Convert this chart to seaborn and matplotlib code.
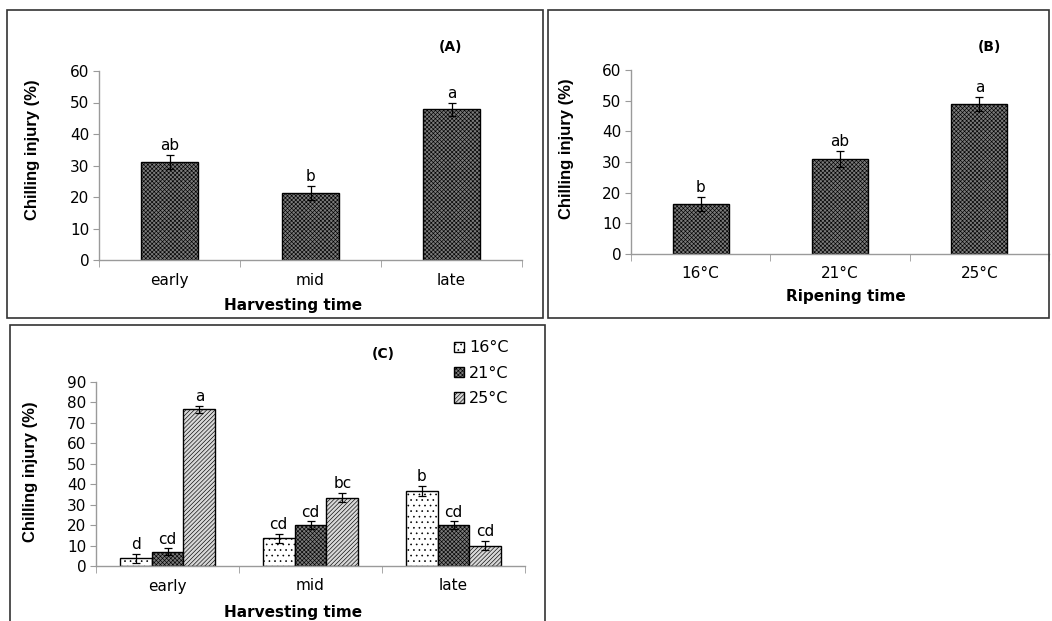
import matplotlib
matplotlib.use('Agg')
import matplotlib.pyplot as plt
import seaborn as sns
import pandas as pd
from matplotlib.patches import Rectangle

# data
harvest = ['early', 'mid', 'late']
ci_harvest = [31.1, 21.2, 47.9]
err_harvest = [2.3, 2.2, 2.1]
lbl_harvest = ['ab', 'b', 'a']

ripening = ['16°C', '21°C', '25°C']
ci_ripen = [16.3, 31.0, 49.0]
err_ripen = [2.4, 2.6, 2.3]
lbl_ripen = ['b', 'ab', 'a']

temps = ['16°C', '21°C', '25°C']
ci_16 = [3.7, 13.5, 36.7]
ci_21 = [7.0, 20.0, 20.0]
ci_25 = [76.6, 33.4, 10.0]
err_16 = [2.2, 2.3, 2.5]
err_21 = [1.6, 1.9, 1.9]
err_25 = [1.9, 2.3, 2.2]
lbl_16 = ['d', 'cd', 'b']
lbl_21 = ['cd', 'cd', 'cd']
lbl_25 = ['a', 'bc', 'cd']

sns.set_style('white')
plt.rcParams['font.family'] = ['DejaVu Sans']
plt.rcParams['hatch.linewidth'] = 0.45
for k in ['text.color', 'axes.labelcolor', 'xtick.labelcolor', 'ytick.labelcolor']:
    plt.rcParams[k] = 'black'

W, H = 1052, 621
fig = plt.figure(figsize=(W / 100, H / 100), dpi=100)


def px_axes(left, right, top, bottom):
    return fig.add_axes([left / W, 1 - bottom / H, (right - left) / W, (bottom - top) / H])


def frame(left, top, right, bottom):
    fig.patches.append(Rectangle((left / W, 1 - bottom / H), (right - left) / W, (bottom - top) / H,
                                 transform=fig.transFigure, fill=False, edgecolor='#333333', lw=1.2))


def style_axes(ax, ymax, step, xr):
    ax.set_ylim(0, ymax)
    ax.set_xlim(-0.5, xr)
    ax.set_yticks(range(0, ymax + 1, step))
    for s in ['top', 'right']:
        ax.spines[s].set_visible(False)
    for s in ['left', 'bottom']:
        ax.spines[s].set_color('#9a9a9a')
        ax.spines[s].set_linewidth(1)
    ax.tick_params(axis='y', direction='out', length=4, color='#9a9a9a', labelsize=11, pad=3, left=True)
    ax.tick_params(axis='x', which='major', length=0, labelsize=11, pad=9)
    ax.set_xticks([-0.5, 0.5, 1.5, 2.5], minor=True)
    ax.tick_params(axis='x', which='minor', direction='out', length=5, color='#9a9a9a', bottom=True)


def place_labels(ax, ax_px, ylab_xy, xlab_xy):
    # ax_px = (left, right, top, bottom) in pixels; labels placed at pixel centres
    left, right, top, bottom = ax_px
    ax.yaxis.set_label_coords((ylab_xy[0] - left) / (right - left), (bottom - ylab_xy[1]) / (bottom - top))
    ax.xaxis.set_label_coords((xlab_xy[0] - left) / (right - left), (bottom - xlab_xy[1]) / (bottom - top))
    ax.yaxis.label.set_va('center')
    ax.xaxis.label.set_va('center')


def simple_panel(ax, cats, vals, errs, lbls, xlabel):
    df = pd.DataFrame({'cat': cats, 'val': vals})
    sns.barplot(data=df, x='cat', y='val', color='#7a7a7a', width=0.4, errorbar=None,
                edgecolor='black', linewidth=1, ax=ax)
    for p in ax.patches:
        p.set_hatch('xxxxxxxx')
    xs = range(len(cats))
    ax.errorbar(xs, vals, yerr=errs, fmt='none', ecolor='black', elinewidth=0.9, capsize=3, capthick=0.9)
    for x, v, e, t in zip(xs, vals, errs, lbls):
        ax.text(x, v + e + 0.6, t, ha='center', va='bottom', fontsize=11)
    ax.set_ylabel('Chilling injury (%)', fontsize=12, fontweight='bold', family='Liberation Sans')
    ax.set_xlabel(xlabel, fontsize=11, fontweight='bold')


# panel A
frame(7, 10, 543, 318)
pxA = (99, 522, 71, 260)
axA = px_axes(*pxA)
simple_panel(axA, harvest, ci_harvest, err_harvest, lbl_harvest, 'Harvesting time')
style_axes(axA, 60, 10, 2.5)
place_labels(axA, pxA, (33, 150), (293, 305))
fig.text(450 / W, 1 - 47 / H, '(A)', ha='center', va='center', fontsize=10, fontweight='bold')

# panel B
frame(548, 10, 1049, 318)
pxB = (631, 1049, 70, 254)
axB = px_axes(*pxB)
simple_panel(axB, ripening, ci_ripen, err_ripen, lbl_ripen, 'Ripening time')
style_axes(axB, 60, 10, 2.5 - 11 / 143)
place_labels(axB, pxB, (567, 149), (846, 296))
fig.text(989 / W, 1 - 47 / H, '(B)', ha='center', va='center', fontsize=10, fontweight='bold')

# panel C
frame(10, 325, 545, 640)
pxC = (96, 525, 382, 566)
axC = px_axes(*pxC)
dfC = pd.DataFrame({
    'harvest': harvest * 3,
    'temp': [t for t in temps for _ in harvest],
    'val': ci_16 + ci_21 + ci_25,
})
sns.barplot(data=dfC, x='harvest', y='val', hue='temp', hue_order=temps,
            palette=['white', '#7a7a7a', '#d8d8d8'], width=0.67, errorbar=None,
            edgecolor='black', linewidth=1, ax=axC)
hatches = ['...', 'xxxxxxxx', '////////']
errs_all = [err_16, err_21, err_25]
lbls_all = [lbl_16, lbl_21, lbl_25]
vals_all = [ci_16, ci_21, ci_25]
for cont, h, vals, errs, lbls in zip(axC.containers, hatches, vals_all, errs_all, lbls_all):
    xs = []
    for p in cont.patches:
        p.set_hatch(h)
        xs.append(p.get_x() + p.get_width() / 2)
    axC.errorbar(xs, vals, yerr=errs, fmt='none', ecolor='black', elinewidth=0.9, capsize=3, capthick=0.9)
    for x, v, e, t in zip(xs, vals, errs, lbls):
        axC.text(x, v + e + 0.8, t, ha='center', va='bottom', fontsize=11)
axC.set_ylabel('Chilling injury (%)', fontsize=12, fontweight='bold', family='Liberation Sans')
axC.set_xlabel('Harvesting time', fontsize=11, fontweight='bold')
style_axes(axC, 90, 10, 2.5)
place_labels(axC, pxC, (31, 472), (293, 612))
axC.legend(axC.containers, temps, loc='upper left', bbox_to_anchor=(448 / W, 1 - 334 / H),
           bbox_transform=fig.transFigure, frameon=False, fontsize=11.5, handlelength=0.6,
           handleheight=0.6, handletextpad=0.3, labelspacing=0.65, borderaxespad=0)
fig.text(383 / W, 1 - 354 / H, '(C)', ha='center', va='center', fontsize=10, fontweight='bold')

fig.savefig('out.png', dpi=100)
